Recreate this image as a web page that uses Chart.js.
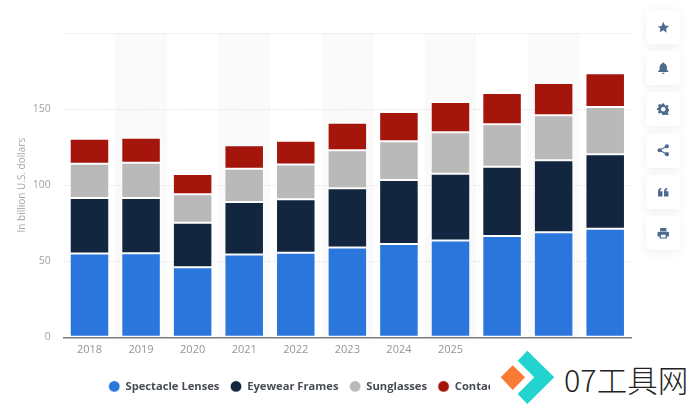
<!DOCTYPE html>
<html><head><meta charset="utf-8">
<script src="https://cdn.jsdelivr.net/npm/chart.js@4"></script>
<style>
html,body{margin:0;padding:0;background:#fff;overflow:hidden}
#wrap{position:relative;width:690px;height:411px}
canvas{position:absolute;left:0;top:0}
.btn{position:absolute;left:646px;width:34px;height:34px;background:#fff;border-radius:4px;box-shadow:0 2px 10px rgba(60,80,110,.09);display:flex;align-items:center;justify-content:center}
.btn svg{width:12.500px;height:12.500px;fill:#4d6b8f}
#mark{position:absolute;left:490px;top:350px;width:200px;height:61px;background:#fff}
#mark svg{position:absolute;left:0;top:0}
#mark span{position:absolute;left:74px;top:9px;font:300 30.5px/40px "Noto Sans CJK SC",sans-serif;color:#222;white-space:nowrap}
</style></head>
<body><div id="wrap"><canvas id="c" width="690" height="411"></canvas>
<div class="btn" style="top:10px"><svg viewBox="0 0 24 24"><path d="M12 1.5l3.3 7 7.7 1-5.6 5.3 1.4 7.7L12 17.8l-6.8 3.7 1.4-7.7L1 10.5l7.7-1z"/></svg></div>
<div class="btn" style="top:51px"><svg viewBox="0 0 24 24"><path d="M12 1c1 0 2 .8 2 1.8C17.500 3.800 19 6.500 19 10v5l3 3v1H2v-1l3-3v-5c0-3.500 1.500-6.200 5-7.200C10 1.800 11 1 12 1zM9.500 20.500h5a2.500 2.500 0 0 1-5 0z"/></svg></div>
<div class="btn" style="top:92px"><svg viewBox="0 0 24 24"><path fill-rule="evenodd" d="M10 1h4l.7 3.200 2 .9 2.800-1.700 2.800 2.800-1.700 2.800.9 2 3.200.7v4l-3.200.7-.9 2 1.700 2.800-2.800 2.800-2.800-1.700-2 .9L14 23h-4l-.7-3.200-2-.9-2.800 1.700-2.800-2.800 1.700-2.800-.9-2L-.7 14v-4l3.200-.7.9-2-1.700-2.800 2.800-2.800 2.800 1.700 2-.9zM12 7.500a4.500 4.500 0 1 0 0 9 4.500 4.500 0 0 0 0-9z"/></svg></div>
<div class="btn" style="top:133.500px"><svg viewBox="0 0 24 24"><circle cx="19" cy="4.500" r="4"/><circle cx="19" cy="19.500" r="4"/><circle cx="5" cy="12" r="4"/><path d="M5 10.500L19 3.200l1 2L6 12.500zM6 11.500l14 7.300-1 2L5 13.500z"/></svg></div>
<div class="btn" style="top:175px"><svg viewBox="0 0 24 24"><path d="M2 20v-9c0-4 2-6.500 6-7.500v3C6.500 7 6 8 6 10h4.500v10zM13.500 20v-9c0-4 2-6.500 6-7.500v3c-1.500.5-2 1.500-2 3.500H22v10z"/></svg></div>
<div class="btn" style="top:216px"><svg viewBox="0 0 24 24"><path fill-rule="evenodd" d="M6 2h12v6H6zM3.500 9h17A2.500 2.500 0 0 1 23 11.500V18h-4v4H5v-4H1v-6.500A2.500 2.500 0 0 1 3.500 9zM7.500 15v5h9v-5z"/></svg></div>
<div id="mark"><svg width="70" height="61" viewBox="490 350 70 61"><polygon points="512.700,365.300 525,377.300 512.700,390 500.700,377.300" fill="#f97a34"/><polygon points="527.300,350.700 554.300,377.300 527.300,404 517.700,394 534.300,377.300 517.700,360.700" fill="#22d3d0"/></svg><span>07工具网</span></div>
</div>
<script>
const categories = ['2018','2019','2020','2021','2022','2023','2024','2025','','',''];
const spectacleLenses = [55.1,55.2,46,54.4,55.5,59,61.3,63.7,66.5,69,71.4];
const eyewearFrames = [36.4,36.3,29.3,34.6,35.3,39,42.1,43.8,45.6,47.3,48.9];
const sunglasses = [22.6,23.3,18.8,21.8,22.7,25,25.5,27.3,28,29.7,31.1];
const contactLenses = [16.4,16.3,13.2,15.4,15.6,18,19.1,19.9,20.5,21.2,22.2];
const yTicksHidden = [200];

const FONT = '"Open Sans", sans-serif';
const edge = 'rgba(255,255,255,0.55)';
function ds(label, data, color){
  return {label, data, backgroundColor: color, borderColor: edge, borderWidth: 1, borderSkipped: false,
          barPercentage: 0.766, categoryPercentage: 1};
}
const bands = {
  id: 'bands',
  beforeInit(chart){ chart.ctx.letterSpacing = '0.5px'; },
  beforeDraw(chart){
    const {ctx, chartArea: a, scales: {x}} = chart;
    const step = x.getPixelForValue(1) - x.getPixelForValue(0);
    ctx.save();
    ctx.fillStyle = '#fafafb';
    categories.forEach((_, i) => {
      if (i % 2 === 1) ctx.fillRect(x.getPixelForValue(i) - step/2, a.top, step, a.bottom - a.top);
    });
    ctx.restore();
  }
};
new Chart(document.getElementById('c'), {
  type: 'bar',
  plugins: [bands],
  data: {
    labels: categories,
    datasets: [
      ds('Spectacle Lenses', spectacleLenses, '#2a76dc'),
      ds('Eyewear Frames', eyewearFrames, '#12263f'),
      ds('Sunglasses', sunglasses, '#b9b9b9'),
      ds('Contact Lenses', contactLenses, '#a4160b')
    ]
  },
  options: {
    responsive: false,
    animation: false,
    devicePixelRatio: 1,
    layout: {padding: {left: 17, right: 59, top: 33, bottom: 9}},
    font: {family: FONT},
    plugins: {
      tooltip: {enabled: false},
      legend: {
        position: 'bottom',
        padding: 0,
        labels: {
          usePointStyle: true, pointStyle: 'circle', boxWidth: 12, boxHeight: 8, padding: 11,
          color: '#474c55',
          font: {family: FONT, size: 11.2, weight: '700'}
        }
      }
    },
    scales: {
      x: {
        stacked: true,
        grid: {display: false, drawTicks: false},
        border: {color: '#7d7d7d', width: 1.5},
        ticks: {color: '#959595', font: {family: FONT, size: 11}, padding: 6, maxRotation: 0, autoSkip: false},
        afterFit(s){ s.height = 32.5; }
      },
      y: {
        stacked: true, min: 0, max: 200,
        afterFit(s){ s.width = 46.7; },
        grid: {color: '#dcdcdc', lineWidth: 1, drawTicks: false, tickLength: 0},
        border: {display: false, dash: [1,1.5]},
        title: {display: true, text: 'In billion U.S. dollars', color: '#a5a5a5', font: {family: FONT, size: 10}, padding: {top: -1, bottom: 0}},
        ticks: {
          stepSize: 50, color: '#a0a0a0', font: {family: FONT, size: 10.5}, padding: 13,
          callback(v){ return yTicksHidden.includes(v) ? '' : v; }
        }
      }
    }
  }
});
</script></body></html>
